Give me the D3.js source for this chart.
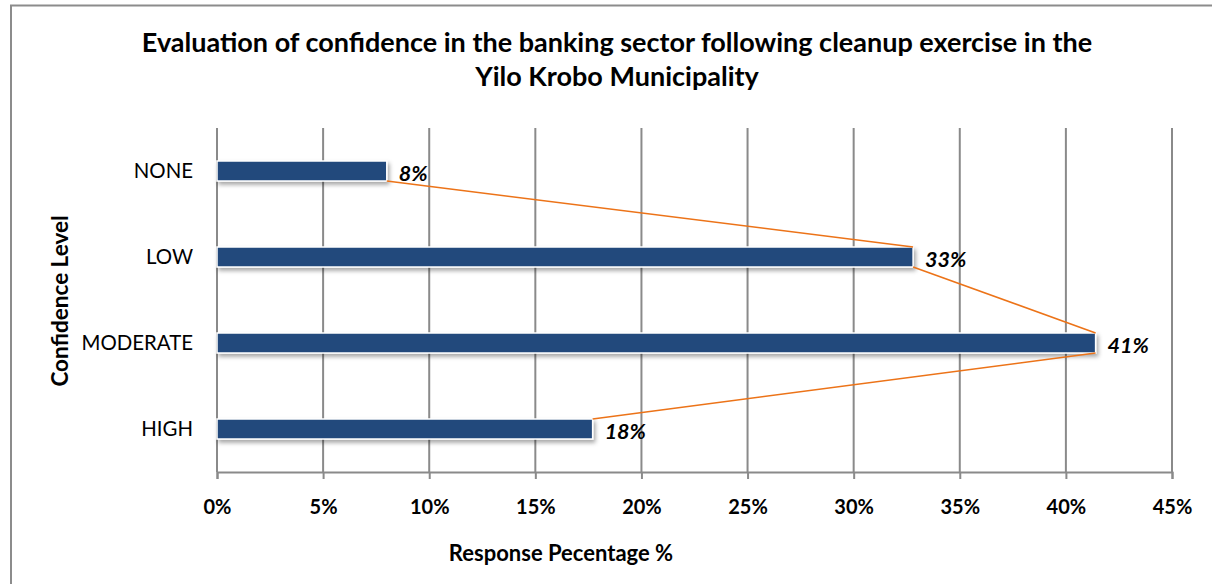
<!DOCTYPE html>
<html>
<head>
<meta charset="utf-8">
<script src="https://cdn.jsdelivr.net/npm/d3@7"></script>
<style>
  html, body { margin: 0; padding: 0; background: #fff; }
  svg { display: block; font-family: Lato, "Open Sans", sans-serif; }
</style>
</head>
<body>
<svg id="chart" width="1212" height="584"></svg>
<script>
// Confidence levels (top to bottom) and share of respondents
const categories = ["NONE", "LOW", "MODERATE", "HIGH"];
const responseShare = [0.080, 0.328, 0.414, 0.177];
const xTicks = [0, 0.05, 0.10, 0.15, 0.20, 0.25, 0.30, 0.35, 0.40, 0.45];
const titleLines = [
  "Evaluation of confidence in the banking sector following cleanup exercise in the",
  "Yilo Krobo Municipality"
];
const xTitle = "Response Pecentage %";
const yTitle = "Confidence Level";

const svg = d3.select("#chart");
const W = 1212, H = 584;
const plot = { left: 217, right: 1172, top: 128, bottom: 472 };

const barColor = "#22497b";
const lineColor = "#ec7318";
const gridColor = "#8a8a8a";

// Outer frame (left and top edges visible)
svg.append("path")
  .attr("d", `M11,${H} L11,5.5 L${W},5.5`)
  .attr("fill", "none")
  .attr("stroke", "#8c8c8c")
  .attr("stroke-width", 2);

const defs = svg.append("defs");
const shadow = defs.append("filter").attr("id", "barShadow")
  .attr("x", "-5%").attr("y", "-30%").attr("width", "115%").attr("height", "180%");
shadow.append("feDropShadow")
  .attr("dx", 2).attr("dy", 3).attr("stdDeviation", 2)
  .attr("flood-color", "#000").attr("flood-opacity", 0.35);

const x = d3.scaleLinear().domain([0, 0.45]).range([plot.left, plot.right]);
const y = d3.scalePoint().domain(categories).range([plot.top, plot.bottom]).padding(0.5);
const barH = 20;

// Vertical gridlines
svg.append("g")
  .selectAll("line")
  .data(xTicks)
  .join("line")
  .attr("x1", d => x(d)).attr("x2", d => x(d))
  .attr("y1", plot.top).attr("y2", plot.bottom)
  .attr("stroke", gridColor).attr("stroke-width", 2);

// X axis
const xAxis = d3.axisBottom(x)
  .tickValues(xTicks)
  .tickFormat(d3.format(".0%"))
  .tickSize(7)
  .tickPadding(21);
const gx = svg.append("g")
  .attr("transform", `translate(0,${plot.bottom})`)
  .call(xAxis);
gx.select(".domain").attr("stroke", gridColor).attr("stroke-width", 2);
gx.selectAll(".tick line").attr("stroke", gridColor).attr("stroke-width", 2);
gx.selectAll(".tick text")
  .attr("fill", "#000")
  .attr("font-size", 20)
  .attr("font-weight", "bold")
  .attr("font-family", "Lato, sans-serif");

// Y axis category labels
const yAxis = d3.axisLeft(y).tickSize(0).tickPadding(24);
const gy = svg.append("g")
  .attr("transform", `translate(${plot.left},0)`)
  .call(yAxis);
gy.select(".domain").remove();
gy.selectAll(".tick text")
  .attr("fill", "#000")
  .attr("font-size", 20.4)
  .attr("font-family", "Lato, sans-serif");

// Bars
svg.append("g")
  .selectAll("rect")
  .data(categories)
  .join("rect")
  .attr("x", x(0))
  .attr("y", d => y(d) - barH / 2)
  .attr("width", (d, i) => x(responseShare[i]) - x(0))
  .attr("height", barH)
  .attr("fill", barColor)
  .attr("stroke", "#fff")
  .attr("stroke-width", 1.5)
  .attr("filter", "url(#barShadow)");

// Series lines joining the bar ends
const links = d3.range(categories.length - 1).map(i => ({
  x1: x(responseShare[i]), y1: y(categories[i]) + barH / 2,
  x2: x(responseShare[i + 1]), y2: y(categories[i + 1]) - barH / 2
}));
svg.append("g")
  .selectAll("line")
  .data(links)
  .join("line")
  .attr("x1", d => d.x1).attr("y1", d => d.y1)
  .attr("x2", d => d.x2).attr("y2", d => d.y2)
  .attr("stroke", lineColor).attr("stroke-width", 1.6);

// Value labels
const pct = d3.format(".0%");
svg.append("g")
  .selectAll("text")
  .data(categories)
  .join("text")
  .attr("x", (d, i) => x(responseShare[i]) + 12)
  .attr("y", d => y(d) + 4)
  .attr("dominant-baseline", "middle")
  .attr("font-size", 21.5)
  .attr("font-weight", "bold")
  .attr("font-style", "italic")
  .attr("fill", "#000")
  .text((d, i) => pct(responseShare[i]));

// Title
svg.append("g")
  .selectAll("text")
  .data(titleLines)
  .join("text")
  .attr("x", 617)
  .attr("y", (d, i) => 45 + i * 34)
  .attr("text-anchor", "middle")
  .attr("dominant-baseline", "middle")
  .attr("font-size", 27)
  .attr("font-weight", "bold")
  .attr("fill", "#000")
  .text(d => d);

// Axis titles
svg.append("text")
  .attr("x", 561).attr("y", 555)
  .attr("text-anchor", "middle")
  .attr("dominant-baseline", "middle")
  .attr("font-size", 22)
  .attr("font-weight", "bold")
  .text(xTitle);

svg.append("text")
  .attr("transform", "translate(62,301) rotate(-90)")
  .attr("text-anchor", "middle")
  .attr("dominant-baseline", "middle")
  .attr("font-size", 22.5)
  .attr("font-weight", "bold")
  .text(yTitle);
</script>
</body>
</html>
